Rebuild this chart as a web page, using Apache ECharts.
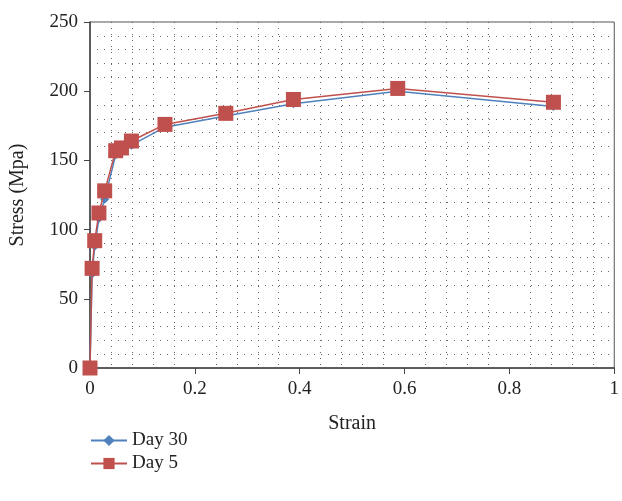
<!DOCTYPE html>
<html><head><meta charset="utf-8">
<script src="https://cdn.jsdelivr.net/npm/echarts@6/dist/echarts.min.js"></script>
<style>html,body{margin:0;padding:0;background:#fff}#c{width:622px;height:501px}</style>
</head><body><div id="c"></div>
<script>
const strain = [0, 0.004, 0.009, 0.017, 0.028, 0.049, 0.06, 0.079, 0.143, 0.259, 0.388, 0.587, 0.884];
const day30 = [0, 68, 88, 108, 122, 154, 157, 161, 174, 182, 191, 200, 189];
const day5 = [0, 72, 92, 112, 128, 157, 159, 164, 176, 184, 194, 202, 192];
const seriesNames = ['Day 30', 'Day 5'];
const xTicks = [0, 0.2, 0.4, 0.6, 0.8, 1];
const yTicks = [0, 50, 100, 150, 200, 250];

const font = 'Liberation Serif';
const chart = echarts.init(document.getElementById('c'));
const pairs = arr => strain.map((s, i) => [s, arr[i]]);
chart.setOption({
  animation: false,
  textStyle: { fontFamily: font },
  grid: { left: 87, right: 2, top: 22, bottom: 133, show: true, borderColor: '#555', borderWidth: 1 },
  legend: {
    orient: 'vertical', left: 85, top: 426, itemGap: 4, itemWidth: 36, itemHeight: 14,
    textStyle: { fontFamily: font, fontSize: 19, color: '#222' },
    data: seriesNames
  },
  xAxis: {
    type: 'value', min: 0, max: 1, interval: 0.2,
    name: 'Strain', nameLocation: 'middle', nameGap: 46,
    nameTextStyle: { fontFamily: font, fontSize: 20, color: '#222' },
    axisLine: { lineStyle: { color: '#444', width: 1.5 } },
    axisTick: { show: true, length: 6, lineStyle: { color: '#444' } },
    axisLabel: { fontFamily: font, fontSize: 19, color: '#222', margin: 12,
      formatter: v => xTicks.includes(+v.toFixed(2)) ? String(+v.toFixed(2)) : '' },
    splitLine: { show: false },
    minorTick: { show: false, splitNumber: 5 },
    minorSplitLine: { show: true, lineStyle: { color: '#666', type: [1, 5], width: 1 } }
  },
  yAxis: {
    type: 'value', min: 0, max: 250, interval: 50,
    name: 'Stress (Mpa)', nameLocation: 'middle', nameGap: 62,
    nameTextStyle: { fontFamily: font, fontSize: 20, color: '#222' },
    axisLine: { show: true, lineStyle: { color: '#444', width: 1.5 } },
    axisTick: { show: true, length: 6, lineStyle: { color: '#444' } },
    axisLabel: { fontFamily: font, fontSize: 19, color: '#222', margin: 12,
      formatter: v => yTicks.includes(v) ? String(v) : '' },
    splitLine: { show: false },
    minorTick: { show: false, splitNumber: 5 },
    minorSplitLine: { show: true, lineStyle: { color: '#666', type: [1, 6], width: 1 } }
  },
  series: [
    { name: seriesNames[0], type: 'line', data: pairs(day30), symbol: 'diamond', symbolSize: 9,
      itemStyle: { color: '#4F81BD' }, lineStyle: { color: '#4F81BD', width: 1.5 }, z: 2 },
    { name: seriesNames[1], type: 'line', data: pairs(day5), symbol: 'rect', symbolSize: 15,
      itemStyle: { color: '#C0504D' }, lineStyle: { color: '#C0504D', width: 1.5 }, z: 3 }
  ]
});
</script></body></html>
